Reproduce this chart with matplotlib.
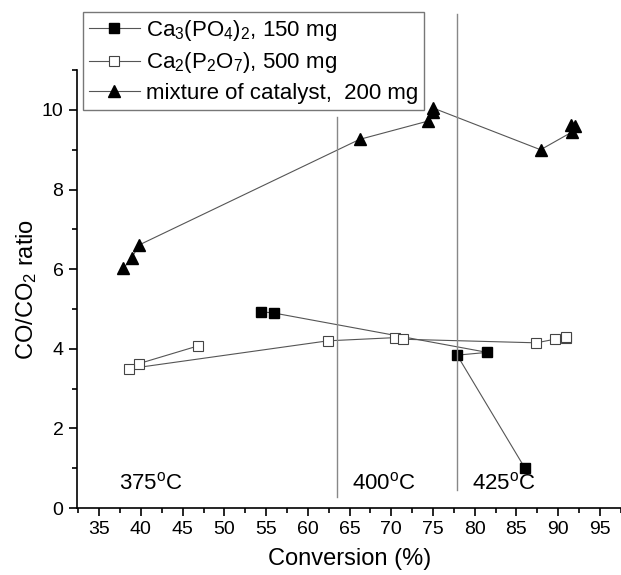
import matplotlib
matplotlib.use("Agg")
import matplotlib.pyplot as plt
from matplotlib.ticker import MultipleLocator

plt.rcParams["font.family"] = ["Liberation Sans", "DejaVu Sans"]
plt.rcParams["mathtext.fontset"] = "custom"
plt.rcParams["mathtext.rm"] = "Liberation Sans"
plt.rcParams["mathtext.it"] = "Liberation Sans:italic"

# Ca3(PO4)2, 150 mg
tcp_conv = [54.4, 55.9, 81.5, 77.9, 86.0]
tcp_ratio = [4.93, 4.90, 3.91, 3.84, 1.01]

# Ca2(P2O7), 500 mg
cpp_conv = [46.8, 39.8, 38.6, 62.4, 70.4, 71.4, 87.4, 89.6, 90.9, 91.0]
cpp_ratio = [4.07, 3.63, 3.50, 4.20, 4.28, 4.24, 4.15, 4.24, 4.27, 4.30]

# mixture of catalyst, 200 mg
mix_conv = [37.9, 38.9, 39.8, 66.2, 74.4, 75.0, 75.0, 87.9, 91.7, 91.5, 92.0]
mix_ratio = [6.02, 6.29, 6.61, 9.26, 9.72, 9.95, 10.05, 9.00, 9.45, 9.62, 9.60]

# temperature boundaries and labels
temp_bounds = [63.5, 77.9]
temp_labels = ["375", "400", "425"]
temp_label_x = [37.4, 65.3, 79.7]

fig = plt.figure(figsize=(6.21, 5.75), dpi=100)
ax = fig.add_axes([0.1235, 0.1165, 0.88, 0.7615])

line_kw = dict(color="#555555", linewidth=0.8, markeredgecolor="black")
ax.plot(tcp_conv, tcp_ratio, marker="s", markersize=6.7, markerfacecolor="black",
        label=r"Ca$_\mathregular{3}$(PO$_\mathregular{4}$)$_\mathregular{2}$, 150 mg", **line_kw)
ax.plot(cpp_conv, cpp_ratio, marker="s", markersize=6.5, markerfacecolor="white",
        markeredgewidth=0.8, markeredgecolor="#444444", color="#555555", linewidth=0.8,
        label=r"Ca$_\mathregular{2}$(P$_\mathregular{2}$O$_\mathregular{7}$), 500 mg")
ax.plot(mix_conv, mix_ratio, marker="^", markersize=9, markerfacecolor="black",
        label="mixture of catalyst,  200 mg", **line_kw)

# vertical lines separating the temperature regions
ax.plot([temp_bounds[0], temp_bounds[0]], [0.27, 9.83], color="#888888", linewidth=1)
ax.plot([temp_bounds[1], temp_bounds[1]], [0.45, 12.4], color="#888888", linewidth=1,
        clip_on=False)

for x, t in zip(temp_label_x, temp_labels):
    ax.text(x, 0.62, t + r"$^\mathregular{o}$C", fontsize=16, va="center", ha="left")

ax.set_xlim(32.3, 97.8)
ax.set_ylim(0, 11)
ax.xaxis.set_major_locator(MultipleLocator(5))
ax.xaxis.set_minor_locator(MultipleLocator(2.5))
ax.yaxis.set_major_locator(MultipleLocator(2))
ax.yaxis.set_minor_locator(MultipleLocator(1))
ax.set_xticks(range(35, 100, 5))
ax.tick_params(which="major", direction="out", length=6, width=1.2, labelsize=14)
ax.tick_params(which="minor", direction="out", length=3.5, width=1.2)

for side in ["top", "right"]:
    ax.spines[side].set_visible(False)
for side in ["left", "bottom"]:
    ax.spines[side].set_linewidth(1.2)

ax.set_xlabel("Conversion (%)", fontsize=17, labelpad=7)
ax.set_ylabel(r"CO/CO$_\mathregular{2}$ ratio", fontsize=17, labelpad=2)

leg = ax.legend(loc="upper left", bbox_to_anchor=(83 / 621, 1 - 12 / 575),
                bbox_transform=fig.transFigure, borderaxespad=0, fontsize=16,
                fancybox=False, framealpha=1, edgecolor="#777777",
                handlelength=2.3, handletextpad=0.3, borderpad=0.25, labelspacing=0.35)
leg.get_frame().set_linewidth(1)

fig.savefig("out.png", dpi=100)
